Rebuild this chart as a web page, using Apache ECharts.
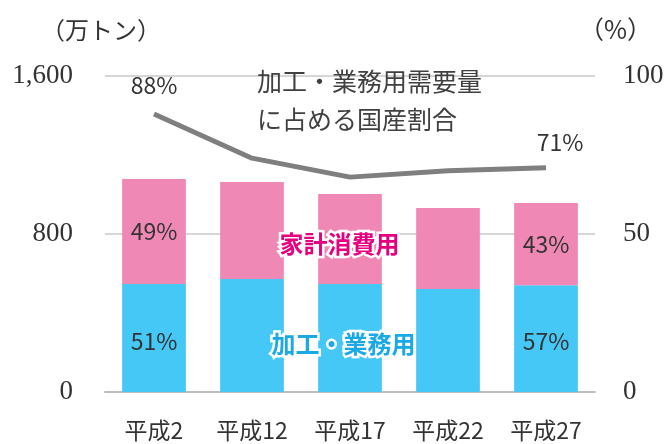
<!DOCTYPE html>
<html>
<head>
<meta charset="utf-8">
<script src="https://cdn.jsdelivr.net/npm/echarts@6/dist/echarts.min.js"></script>
<style>
  html, body { margin: 0; padding: 0; background: #fff; }
  #chart { width: 670px; height: 444px; }
</style>
</head>
<body>
<div id="chart"></div>
<script>
// 年次
const years = ['平成2', '平成12', '平成17', '平成22', '平成27']
// 加工・業務用 (万トン)
const processUse = [547, 572, 547, 522, 540]
// 家計消費用 (万トン)
const homeUse = [531, 491, 456, 410, 417]
// 加工・業務用需要量に占める国産割合 (%)
const domesticShare = [88, 74, 68, 70, 71]
// 棒の中の比率ラベル
const processLabels = ['51%', null, null, null, '57%']
const homeLabels = ['49%', null, null, null, '43%']
const leftTicks = { min: 0, max: 1600, interval: 800 }
const rightTicks = { min: 0, max: 100, interval: 50 }

const jp = '"Noto Sans CJK JP", "Noto Sans", sans-serif'
const serif = '"Liberation Serif", "DejaVu Serif", serif'

const pctLabel = labels => (p) => labels[p.dataIndex] || ''
const last = domesticShare.length - 1

const chart = echarts.init(document.getElementById('chart'))
chart.setOption({
    animation: false,
    grid: { left: 105, right: 75, top: 76, bottom: 52 },
    xAxis: {
        type: 'category',
        data: years,
        axisTick: { show: false },
        axisLine: { lineStyle: { color: '#bcbcbc', width: 2 } },
        axisLabel: { color: '#333', fontSize: 23, fontFamily: jp, margin: 27 }
    },
    yAxis: [
        {
            type: 'value',
            ...leftTicks,
            name: '（万トン）',
            nameLocation: 'end',
            nameGap: 34,
            nameTextStyle: { color: '#333', fontSize: 24, fontFamily: jp, align: 'right', padding: [0, -56, 0, 0] },
            axisLine: { show: false },
            axisTick: { show: false },
            axisLabel: {
                color: '#333', fontSize: 27, fontFamily: serif, margin: 32,
                formatter: v => v.toLocaleString('en-US')
            },
            splitLine: { lineStyle: { color: '#c8c8c8', width: 1.5 } }
        },
        {
            type: 'value',
            ...rightTicks,
            name: '（%）',
            nameLocation: 'end',
            nameGap: 34,
            nameTextStyle: { color: '#333', fontSize: 25, fontFamily: jp, align: 'left', padding: [0, 0, 0, -16] },
            axisLine: { show: false },
            axisTick: { show: false },
            axisLabel: { color: '#333', fontSize: 27, fontFamily: serif, margin: 28 },
            splitLine: { show: false }
        }
    ],
    series: [
        {
            name: '加工・業務用',
            type: 'bar',
            stack: 'total',
            barCategoryGap: '35%',
            itemStyle: { color: '#45c8f5' },
            label: {
                show: true, position: 'inside', offset: [0, 3], color: '#333', fontSize: 23, fontFamily: jp,
                formatter: pctLabel(processLabels)
            },
            data: processUse
        },
        {
            name: '家計消費用',
            type: 'bar',
            stack: 'total',
            itemStyle: { color: '#f088b6' },
            label: {
                show: true, position: 'inside', color: '#333', fontSize: 23, fontFamily: jp,
                formatter: pctLabel(homeLabels)
            },
            data: homeUse
        },
        {
            name: '国産割合',
            type: 'line',
            yAxisIndex: 1,
            symbol: 'circle',
            symbolSize: 1,
            itemStyle: { color: 'rgba(0,0,0,0)' },
            lineStyle: { color: '#7f7f80', width: 5 },
            label: {
                show: true, color: '#333', fontSize: 23, fontFamily: jp,
                formatter: p => (p.dataIndex === 0 || p.dataIndex === last) ? p.value + '%' : ''
            },
            data: domesticShare.map((v, i) => i === last
                ? { value: v, label: { position: 'top', offset: [14, -8] } }
                : { value: v, label: { position: 'top', distance: 17 } })
        }
    ],
    graphic: [
        {
            type: 'text', left: 257, top: 62, z: 100,
            style: { text: '加工・業務用需要量\nに占める国産割合', fill: '#404040', font: '25px ' + jp, lineHeight: 38 }
        },
        {
            type: 'text', left: 277, top: 229, z: 100,
            style: { text: '家計消費用', fill: '#e4007f', font: 'bold 24px ' + jp, stroke: '#fff', lineWidth: 5 }
        },
        {
            type: 'text', left: 269, top: 329, z: 100,
            style: { text: '加工・業務用', fill: '#1ba9e6', font: 'bold 24px ' + jp, stroke: '#fff', lineWidth: 5 }
        }
    ]
})
</script>
</body>
</html>
